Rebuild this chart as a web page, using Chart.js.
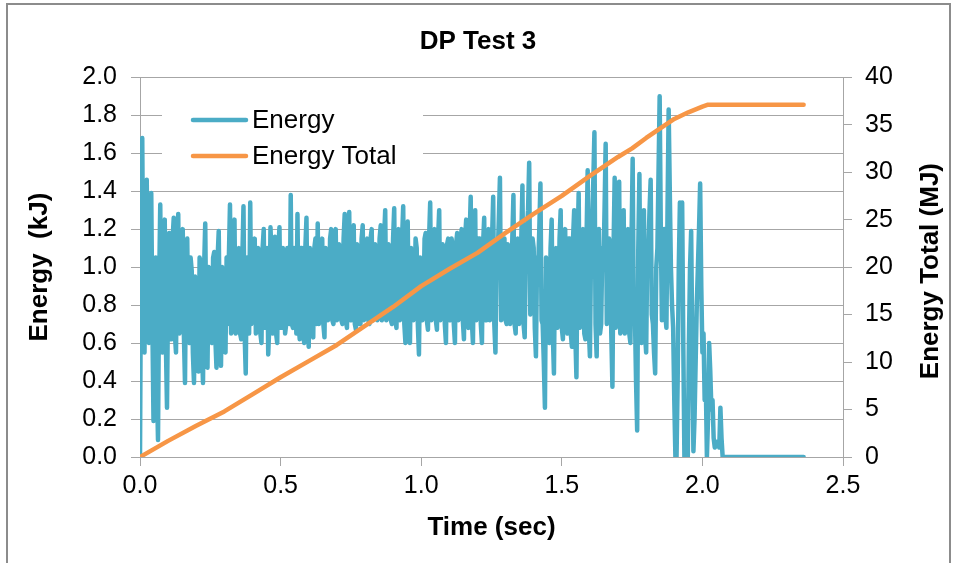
<!DOCTYPE html>
<html>
<head>
<meta charset="utf-8">
<script src="https://cdn.jsdelivr.net/npm/chart.js@4"></script>
<style>
  html, body { margin: 0; padding: 0; background: #fff; }
  #wrap { width: 956px; height: 563px; }
</style>
</head>
<body>
<div id="wrap"><canvas id="myChart" width="956" height="563"></canvas></div>
<script>
// Energy (kJ), one sample every 0.004 s (20 samples per row = 0.08 s)
var sampleSec = 0.004;
var energyKJ = [
  0.00, 1.20, 1.68, 0.75, 0.55, 1.25, 1.46, 0.70, 0.60, 1.10, 1.39, 0.70, 0.19, 0.75, 1.05, 0.40, 0.09, 0.90, 1.33, 0.70,
  0.55, 1.10, 1.25, 0.60, 0.26, 0.90, 1.18, 0.62, 0.62, 1.15, 1.26, 0.65, 0.55, 1.10, 1.28, 0.65, 0.75, 1.15, 1.20, 0.65,
  0.39, 1.05, 1.15, 0.62, 0.60, 1.05, 0.98, 0.55, 0.39, 0.95, 0.92, 0.60, 0.45, 1.05, 1.02, 0.60, 0.39, 1.00, 1.23, 0.62,
  0.47, 1.00, 0.99, 0.62, 0.60, 1.05, 1.08, 0.62, 0.47, 1.05, 1.19, 0.65, 0.48, 1.00, 0.96, 0.62, 0.55, 1.05, 0.70, 1.05,
  1.33, 0.65, 0.70, 1.10, 1.25, 0.65, 0.66, 1.05, 1.10, 0.65, 0.62, 1.05, 1.32, 0.65, 0.44, 1.05, 1.05, 0.65, 1.34, 0.70,
  0.75, 1.10, 1.15, 0.65, 0.68, 1.10, 1.08, 0.65, 0.60, 1.10, 1.20, 0.68, 0.72, 1.10, 0.54, 0.70, 1.21, 1.05, 0.65, 1.10,
  1.16, 0.65, 0.60, 1.10, 1.21, 0.68, 0.68, 1.10, 0.95, 0.65, 0.70, 1.10, 1.10, 0.70, 1.38, 0.70, 0.68, 1.10, 1.05, 0.65,
  1.28, 0.70, 0.62, 1.10, 1.10, 0.65, 0.60, 1.10, 1.26, 0.68, 0.58, 1.10, 1.00, 0.68, 0.63, 1.10, 1.15, 0.70, 1.23, 0.70,
  0.80, 1.10, 1.15, 0.70, 0.63, 1.10, 1.05, 0.72, 0.82, 1.15, 1.20, 0.72, 0.70, 1.15, 1.20, 0.72, 0.77, 1.12, 1.10, 0.72,
  0.70, 1.15, 1.28, 0.72, 0.68, 1.15, 1.29, 0.72, 0.72, 1.15, 1.22, 0.70, 0.67, 1.12, 1.10, 0.70, 0.70, 1.15, 1.22, 0.72,
  0.76, 1.12, 1.15, 0.72, 0.70, 1.15, 1.20, 0.72, 0.74, 1.12, 1.08, 0.72, 0.80, 1.15, 1.22, 0.72, 0.74, 1.15, 1.30, 0.72,
  0.76, 1.12, 1.10, 0.72, 0.70, 1.15, 1.31, 0.72, 0.68, 1.12, 1.20, 0.72, 0.78, 1.15, 1.32, 0.70, 0.60, 1.12, 1.24, 0.72,
  0.60, 1.10, 1.02, 0.72, 0.82, 1.15, 1.10, 0.70, 0.54, 1.05, 0.95, 0.72, 0.80, 1.15, 1.18, 0.72, 0.67, 1.15, 1.34, 0.72,
  0.78, 1.15, 1.20, 0.72, 0.67, 1.15, 1.30, 0.72, 0.80, 1.12, 1.05, 0.70, 0.60, 1.12, 1.15, 0.72, 0.72, 1.15, 1.10, 0.70,
  0.60, 1.12, 1.18, 0.72, 0.75, 1.15, 1.20, 0.72, 0.62, 1.15, 1.25, 0.72, 0.68, 1.15, 1.37, 0.72, 0.60, 1.15, 1.30, 0.72,
  0.76, 1.15, 1.15, 0.70, 0.60, 1.12, 1.26, 0.72, 0.72, 1.15, 1.20, 0.72, 0.82, 1.15, 1.37, 0.70, 0.55, 1.10, 1.05, 1.25,
  1.47, 0.72, 0.80, 1.15, 1.15, 0.72, 0.70, 1.12, 1.10, 0.70, 0.75, 1.15, 1.38, 0.70, 0.65, 1.12, 1.15, 0.70, 0.76, 1.15,
  1.43, 0.70, 0.63, 1.10, 1.20, 1.30, 1.55, 0.75, 0.80, 1.15, 1.10, 0.68, 0.53, 1.05, 1.00, 1.20, 1.44, 0.72, 0.70, 0.50,
  0.26, 1.05, 1.00, 0.65, 0.60, 1.10, 1.25, 0.65, 0.44, 1.05, 1.10, 0.68, 0.70, 1.15, 1.30, 0.68, 0.62, 1.15, 1.20, 0.68,
  0.65, 1.15, 1.15, 0.65, 0.58, 1.15, 1.30, 0.65, 0.42, 1.10, 1.39, 0.68, 0.70, 1.15, 1.20, 0.65, 0.62, 1.15, 1.51, 0.68,
  0.53, 1.10, 1.25, 1.45, 1.71, 0.70, 0.53, 1.10, 1.20, 0.65, 0.70, 1.10, 1.00, 1.30, 1.65, 0.70, 0.80, 1.15, 1.10, 0.65,
  0.37, 1.10, 1.47, 0.68, 0.75, 1.15, 1.45, 0.65, 0.70, 1.15, 1.30, 0.65, 0.80, 1.15, 1.20, 0.65, 0.60, 1.15, 1.57, 0.70,
  0.75, 0.40, 0.14, 1.10, 1.49, 0.70, 0.60, 1.15, 1.30, 0.65, 0.55, 1.10, 1.10, 1.30, 1.46, 0.75, 0.70, 0.55, 0.44, 1.00,
  1.10, 1.50, 1.90, 1.20, 0.72, 1.10, 1.20, 0.75, 0.68, 1.30, 1.83, 1.40, 1.00, 0.80, 0.68, 0.30, 0.00, 0.00, 0.40, 1.00,
  1.34, 1.10, 1.34, 0.60, 0.00, 0.00, 0.00, 0.00, 0.60, 1.00, 1.19, 0.60, 0.03, 0.20, 0.50, 0.80, 1.00, 1.20, 1.44, 0.90,
  0.55, 0.65, 0.30, 0.40, 0.00, 0.20, 0.60, 0.45, 0.25, 0.30, 0.10, 0.05, 0.06, 0.08, 0.07, 0.05, 0.26, 0.10, 0.00, 0.00,
  0, 0, 0, 0, 0, 0, 0, 0, 0, 0, 0, 0, 0, 0, 0, 0, 0, 0, 0, 0,
  0, 0, 0, 0, 0, 0, 0, 0, 0, 0, 0, 0, 0, 0, 0, 0, 0, 0, 0, 0,
  0, 0, 0, 0, 0, 0, 0, 0, 0, 0, 0, 0, 0, 0, 0, 0, 0, 0, 0, 0,
  0, 0, 0, 0, 0, 0, 0, 0, 0, 0, 0
];

// Energy Total (MJ)
var totalTime = [0, 0.1, 0.2, 0.3, 0.4, 0.5, 0.6, 0.7, 0.8, 0.9, 1.0, 1.1, 1.2, 1.3, 1.4, 1.5, 1.6, 1.7, 1.75, 1.8, 1.85, 1.9, 1.95, 2.0, 2.02, 2.36];
var totalMJ   = [0, 1.7, 3.3, 4.8, 6.6, 8.4, 10.1, 11.8, 13.8, 15.8, 18.0, 19.8, 21.5, 23.6, 25.6, 27.5, 29.6, 31.6, 32.5, 33.6, 34.6, 35.6, 36.3, 36.9, 37.1, 37.1];

var timeTicks = [0, 0.5, 1.0, 1.5, 2.0, 2.5];

var BLUE = '#4BACC6';
var ORANGE = '#F79646';
var GRID = '#A6A6A6';
var FONT = '"Liberation Sans", Arial, sans-serif';

var energyPts = energyKJ.map(function (v, i) { return {x: i * sampleSec, y: v}; });
var totalPts = totalTime.map(function (t, i) { return {x: t, y: totalMJ[i]}; });

// frame + white background
var framePlugin = {
    id: 'frame',
    beforeDraw: function (chart) {
        var c = chart.ctx;
        c.save();
        c.fillStyle = '#fff';
        c.fillRect(0, 0, chart.width, chart.height);
        c.strokeStyle = '#8C8C8C';
        c.lineWidth = 2;
        c.strokeRect(7, 4, 943, 600);
        c.restore();
    }
};

// legend inside the plot, and right axis title reading bottom-to-top
var legendPlugin = {
    id: 'insideLegend',
    afterDatasetsDraw: function (chart) {
        var c = chart.ctx;
        c.save();
        c.fillStyle = '#fff';
        c.fillRect(162, 100, 261, 72);
        var items = [[chart.data.datasets[0].label, BLUE, 120], [chart.data.datasets[1].label, ORANGE, 156]];
        c.lineWidth = 4.5;
        c.lineCap = 'round';
        c.font = '26px ' + FONT;
        c.textBaseline = 'middle';
        c.textAlign = 'left';
        items.forEach(function (it) {
            c.strokeStyle = it[1];
            c.beginPath();
            c.moveTo(193, it[2]);
            c.lineTo(246, it[2]);
            c.stroke();
            c.fillStyle = '#000';
            c.fillText(it[0], 252, it[2] + 1);
        });
        c.restore();
    },
    afterDraw: function (chart) {
        var c = chart.ctx;
        var a = chart.chartArea;
        c.save();
        c.translate(931, (a.top + a.bottom) / 2 + 4);
        c.rotate(-Math.PI / 2);
        c.font = 'bold 26px ' + FONT;
        c.fillStyle = '#000';
        c.textAlign = 'center';
        c.textBaseline = 'middle';
        c.fillText('Energy Total (MJ)', 0, 0);
        c.restore();
    }
};

var ctx = document.getElementById('myChart').getContext('2d');
var chart = new Chart(ctx, {
    type: 'line',
    data: {
        datasets: [{
            label: 'Energy',
            data: energyPts,
            borderColor: BLUE,
            backgroundColor: BLUE,
            borderWidth: 4.5,
            borderJoinStyle: 'round',
            borderCapStyle: 'round',
            pointRadius: 0,
            yAxisID: 'y',
            order: 2
        }, {
            label: 'Energy Total',
            data: totalPts,
            borderColor: ORANGE,
            backgroundColor: ORANGE,
            borderWidth: 4.5,
            borderCapStyle: 'round',
            borderJoinStyle: 'round',
            pointRadius: 0,
            yAxisID: 'y2',
            order: 1
        }]
    },
    plugins: [framePlugin, legendPlugin],
    options: {
        responsive: false,
        animation: false,
        layout: { padding: 0 },
        plugins: {
            legend: { display: false },
            tooltip: { enabled: false },
            title: {
                display: true,
                text: 'DP Test 3',
                color: '#000',
                font: { family: FONT, size: 26, weight: 'bold' },
                padding: { top: 26, bottom: 20 }
            }
        },
        scales: {
            x: {
                type: 'linear',
                min: 0,
                max: 2.5,
                afterBuildTicks: function (s) { s.ticks = timeTicks.map(function (v) { return {value: v}; }); },
                afterFit: function (s) { s.height = 106; },
                ticks: {
                    color: '#000',
                    font: { family: FONT, size: 25 },
                    padding: 5,
                    maxRotation: 0,
                    callback: function (v) { return Number(v).toFixed(1); }
                },
                grid: { drawOnChartArea: false, drawTicks: true, tickLength: 9, color: GRID },
                border: { color: GRID },
                title: {
                    display: true,
                    text: 'Time (sec)',
                    color: '#000',
                    font: { family: FONT, size: 26, weight: 'bold' },
                    padding: { top: 0, bottom: 20 }
                }
            },
            y: {
                position: 'left',
                min: 0,
                max: 2.0,
                afterFit: function (s) { s.width = 140; },
                ticks: {
                    stepSize: 0.2,
                    color: '#000',
                    font: { family: FONT, size: 25 },
                    padding: 14,
                    callback: function (v) { return Number(v).toFixed(1); }
                },
                grid: { color: GRID, tickLength: 9 },
                border: { color: GRID },
                title: {
                    display: true,
                    text: 'Energy  (kJ)',
                    color: '#000',
                    font: { family: FONT, size: 26, weight: 'bold' },
                    padding: { top: 24, bottom: 0 }
                }
            },
            y2: {
                position: 'right',
                min: 0,
                max: 40,
                afterFit: function (s) { s.width = 113; },
                ticks: {
                    stepSize: 5,
                    color: '#000',
                    font: { family: FONT, size: 25 },
                    padding: 13
                },
                grid: { drawOnChartArea: false, color: GRID, tickLength: 9 },
                border: { color: GRID }
            }
        }
    }
});
</script>
</body>
</html>
